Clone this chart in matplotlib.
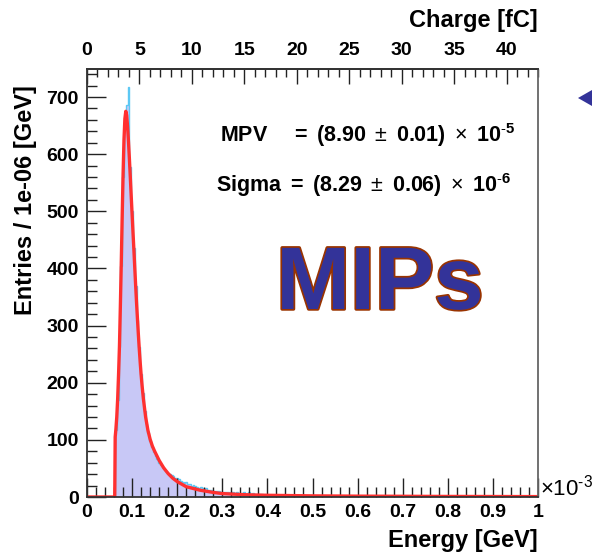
import numpy as np
import matplotlib
matplotlib.use("Agg")
import matplotlib.pyplot as plt
from matplotlib.ticker import MultipleLocator
import matplotlib.patheffects as pe
from matplotlib.patches import Polygon

plt.rcParams['font.family'] = ['Liberation Sans', 'DejaVu Sans']
plt.rcParams['mathtext.fontset'] = 'custom'
plt.rcParams['mathtext.rm'] = 'Liberation Sans'
plt.rcParams['mathtext.bf'] = 'Liberation Sans:bold'
plt.rcParams['mathtext.it'] = 'Liberation Sans:italic'

# Energy deposit histogram (x in units of 1e-3 GeV)
bin_edges = np.round(np.arange(0.062, 0.4621, 0.004), 4)
hist_entries = [
    118, 170, 262, 405, 560, 660, 686, 718, 578, 500,
    436, 370, 310, 262, 215, 182, 150, 128, 112, 98,
    87, 78, 72, 66, 60, 56, 52, 48, 45, 42,
    40, 38, 36, 34, 33, 31, 28, 27, 25, 26,
    23, 22, 20, 21, 19, 18, 16, 17, 15, 14,
    15, 13, 12, 13, 11, 10, 11, 10, 9, 9,
    8, 9, 8, 7, 8, 9, 7, 8, 7, 6,
    7, 8, 6, 7, 8, 6, 7, 5, 6, 5, 6, 5, 4, 5, 4,
    4, 3, 4, 3, 3, 4, 3, 2, 3, 2, 3, 2, 2, 2, 1,
]

# Landau fit curve sampled along the energy axis
fit_x = [0.000, 0.0615, 0.0625, 0.064, 0.066, 0.068, 0.070, 0.072, 0.074, 0.076,
         0.078, 0.080, 0.082, 0.084, 0.086, 0.088, 0.090, 0.092, 0.094, 0.096,
         0.098, 0.100, 0.102, 0.104, 0.106, 0.108, 0.110, 0.112, 0.114, 0.116,
         0.118, 0.120, 0.122, 0.125, 0.130, 0.135, 0.140, 0.145, 0.150, 0.160,
         0.170, 0.180, 0.190, 0.200, 0.220, 0.250, 0.280, 0.300, 0.350, 0.400,
         0.500, 0.600, 0.800, 1.000]
fit_y = [0, 0, 105, 118, 140, 172, 215, 265, 335, 410,
         490, 565, 625, 662, 675, 668, 648, 622, 592, 560,
         527, 495, 463, 432, 400, 368, 338, 310, 283, 258,
         235, 214, 196, 172, 140, 117, 101, 89, 80, 64,
         51, 41, 33, 27, 18, 12, 8, 6, 4, 3,
         2, 1.5, 1, 0.7]

energy_ticks = [0, 0.1, 0.2, 0.3, 0.4, 0.5, 0.6, 0.7, 0.8, 0.9, 1]
energy_labels = ['0', '0.1', '0.2', '0.3', '0.4', '0.5', '0.6', '0.7', '0.8', '0.9', '1']
charge_ticks = [0, 5, 10, 15, 20, 25, 30, 35, 40]
FC_PER_UNIT = 43.0  # charge in fC per 1e-3 GeV

W, H = 592, 559
fig = plt.figure(figsize=(W / 100, H / 100), dpi=100)
ax = fig.add_axes([87 / W, 1 - 497 / H, (538 - 87) / W, (497 - 69) / H])

ax.stairs(hist_entries, bin_edges, fill=True, color='#c8c8f6', lw=0)
ax.stairs(hist_entries, bin_edges, color='#5cc8f4', lw=1.0)
ax.plot(fit_x, fit_y, color='#ff3030', lw=2.4, solid_joinstyle='round')

ax.set_xlim(0, 1)
ax.set_ylim(0, 749)

tick_font = dict(fontsize=14, fontweight='bold')
ax.set_xticks(energy_ticks)
ax.set_xticklabels(energy_labels, **tick_font)
ax.xaxis.set_minor_locator(MultipleLocator(0.02))
ax.yaxis.set_major_locator(MultipleLocator(100))
ax.yaxis.set_minor_locator(MultipleLocator(20))
for lab in ax.get_yticklabels():
    lab.set_fontsize(14)
    lab.set_fontweight('bold')

ax.tick_params(axis='x', which='major', direction='in', length=14, width=1.0,
               pad=5, top=False, colors='#222222', labelcolor='black')
ax.tick_params(axis='x', which='minor', direction='in', length=7, width=1.0, top=False,
               colors='#222222')
ax.tick_params(axis='y', which='major', direction='in', length=14, width=1.0,
               pad=6, right=False, colors='#222222', labelcolor='black')
ax.tick_params(axis='y', which='minor', direction='in', length=7, width=1.0, right=False,
               colors='#222222')
for s in ax.spines.values():
    s.set_linewidth(1.3)
    s.set_color('#333333')
ax.spines['right'].set_color('#666666')

# charge scale along the top edge
sec = ax.secondary_xaxis('top', functions=(lambda e: e * FC_PER_UNIT,
                                           lambda q: q / FC_PER_UNIT))
sec.set_xticks(charge_ticks)
sec.set_xticklabels([str(c) for c in charge_ticks], **tick_font)
sec.xaxis.set_minor_locator(MultipleLocator(1))
sec.tick_params(axis='x', which='major', direction='in', length=11, width=1.0, pad=7,
                colors='#222222', labelcolor='black')
sec.tick_params(axis='x', which='minor', direction='in', length=6, width=1.0,
                colors='#222222')
sec.spines['top'].set_linewidth(1.3)
sec.spines['top'].set_color('#333333')

label_font = dict(fontsize=17, fontweight='bold')
fig.text(538 / W, 1 - 540 / H, 'Energy [GeV]', ha='right', va='center', **label_font)
fig.text(538 / W, 1 - 20 / H, 'Charge [fC]', ha='right', va='center', **label_font)
fig.text(26 / W, 1 - 200 / H, 'Entries / 1e-06 [GeV]', ha='center', va='center',
         rotation=90, **label_font)

# axis exponent
fig.text(540 / W, 1 - 488 / H, r'$\times\mathrm{10}^{\mathrm{\text{-}3}}$', ha='left',
         va='center', fontsize=16)

# fit results
fig.text(220 / W, 1 - 135 / H,
         r'$\mathbf{MPV\ \ \ \ =\ (8.90}\ \pm\ \mathbf{0.01)}\ \times\ \mathbf{10}^{\mathbf{\text{-}5}}$',
         ha='left', va='center', fontsize=15.5)
fig.text(216 / W, 1 - 185 / H,
         r'$\mathbf{Sigma\ =\ (8.29}\ \pm\ \mathbf{0.06)}\ \times\ \mathbf{10}^{\mathbf{\text{-}6}}$',
         ha='left', va='center', fontsize=15.5)

fig.text(380 / W, 1 - 286 / H, 'MIPs', ha='center', va='center', fontsize=64,
         fontweight='bold', color='#333399',
         path_effects=[pe.withStroke(linewidth=2.5, foreground='#993300')])

# arrow head pointing at the panel
fig.add_artist(Polygon([[578 / W, 1 - 98 / H], [592 / W, 1 - 90 / H], [592 / W, 1 - 106 / H]],
                       closed=True, transform=fig.transFigure, color='#333399', lw=0))

fig.savefig('out.png', dpi=100)
